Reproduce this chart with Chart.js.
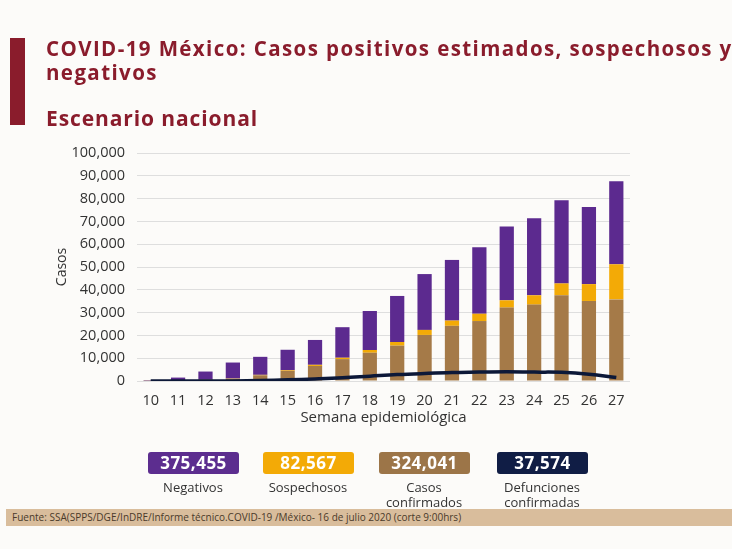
<!DOCTYPE html>
<html>
<head>
<meta charset="utf-8">
<script src="https://cdn.jsdelivr.net/npm/chart.js@4"></script>
<style>
  html, body { margin: 0; padding: 0; }
  body { width: 732px; height: 549px; position: relative; overflow: hidden; background: #fcfbf9; font-family: "Open Sans", sans-serif; }
  #chart { position: absolute; left: 0; top: 0; }
  .bar { position: absolute; left: 10px; top: 38px; width: 15px; height: 87px; background: #8a1c2c; }
  .title { position: absolute; left: 46px; color: #8a1c2c; font-weight: 700; font-size: 20.5px; line-height: 22px; white-space: nowrap; letter-spacing: 1.4px; }
  .box { position: absolute; top: 452px; width: 91px; height: 22px; border-radius: 3px; color: #fff; font-weight: 700; font-size: 17px; line-height: 22px; text-align: center; letter-spacing: 0.5px; }
  .lbl { position: absolute; top: 480px; width: 110px; text-align: center; color: #333; font-size: 13px; line-height: 15px; }
  .foot { position: absolute; left: 6px; top: 509px; width: 726px; height: 17px; background: #d9bd9c; color: #4a3a2a; font-size: 10px; line-height: 17px; padding-left: 6px; box-sizing: border-box; }
</style>
</head>
<body>
<canvas id="chart" width="732" height="549"></canvas>
<div class="bar"></div>
<div class="title" style="top:37px">COVID-19 México: Casos positivos estimados, sospechosos y</div>
<div class="title" style="top:61px">negativos</div>
<div class="title" style="top:107px;font-size:21px;letter-spacing:0.9px">Escenario nacional</div>

<div class="box" style="left:148px;background:#5c2d8f">375,455</div>
<div class="box" style="left:263px;background:#f3aa06">82,567</div>
<div class="box" style="left:379px;background:#9c7548">324,041</div>
<div class="box" style="left:497px;background:#101d45">37,574</div>
<div class="lbl" style="left:138px">Negativos</div>
<div class="lbl" style="left:253px">Sospechosos</div>
<div class="lbl" style="left:369px">Casos<br>confirmados</div>
<div class="lbl" style="left:487px">Defunciones<br>confirmadas</div>
<div class="foot">Fuente: SSA(SPPS/DGE/InDRE/Informe técnico.COVID-19 /México- 16 de julio 2020 (corte 9:00hrs)</div>

<script>
const weeks = ["10","11","12","13","14","15","16","17","18","19","20","21","22","23","24","25","26","27"];
const confirmados = [100, 300, 500, 1000, 2500, 4400, 6600, 9600, 12400, 15500, 20200, 24200, 26300, 32200, 33500, 37600, 35100, 35800];
const sospechosos = [0, 0, 50, 100, 200, 300, 500, 600, 1200, 1600, 2200, 2300, 3200, 3200, 4100, 5200, 7400, 15400];
const negativos = [200, 1200, 3600, 7000, 7900, 9000, 10900, 13400, 17100, 20200, 24500, 26600, 29200, 32400, 33800, 36500, 33800, 36400];
const defunciones = [0, 0, 10, 50, 200, 500, 900, 1400, 2100, 2800, 3300, 3700, 3900, 4100, 3900, 3800, 3000, 1500];

const tickFont = { family: "Open Sans", size: 14.5 };

new Chart(document.getElementById("chart"), {
  type: "bar",
  data: {
    labels: weeks,
    datasets: [
      { type: "line", label: "Defunciones", data: defunciones, borderColor: "#0c1838", borderWidth: 3.5, pointRadius: 0, tension: 0.4, stack: "def", order: 0 },
      { label: "Confirmados", data: confirmados, backgroundColor: "#a57a48", stack: "casos", order: 1 },
      { label: "Sospechosos", data: sospechosos, backgroundColor: "#f3aa06", stack: "casos", order: 1 },
      { label: "Negativos", data: negativos, backgroundColor: "#5c2a8f", stack: "casos", order: 1 }
    ]
  },
  options: {
    responsive: false,
    animation: false,
    layout: { padding: { top: 153, right: 102, bottom: 118, left: 50 } },
    datasets: { bar: { barPercentage: 0.52, categoryPercentage: 1 } },
    plugins: { legend: { display: false }, tooltip: { enabled: false } },
    scales: {
      x: {
        stacked: true,
        grid: { display: false },
        border: { display: false },
        ticks: { color: "#333", font: tickFont, maxRotation: 0, padding: 3 },
        title: { display: true, text: "Semana epidemiológica", color: "#333", font: { family: "Open Sans", size: 15 }, padding: { top: 0 } },
        afterFit: (s) => { s.height = 50; }
      },
      y: {
        stacked: true,
        min: 0,
        max: 100000,
        grid: { color: "#dedede", lineWidth: 1, drawTicks: false },
        border: { display: false },
        ticks: {
          stepSize: 10000,
          color: "#333",
          font: tickFont,
          padding: 12,
          callback: (v) => v.toLocaleString("en-US")
        },
        title: { display: true, text: "Casos", color: "#333", font: { family: "Open Sans", size: 14 } },
        afterFit: (s) => { s.width = 87; }
      }
    }
  }
});
</script>
</body>
</html>
